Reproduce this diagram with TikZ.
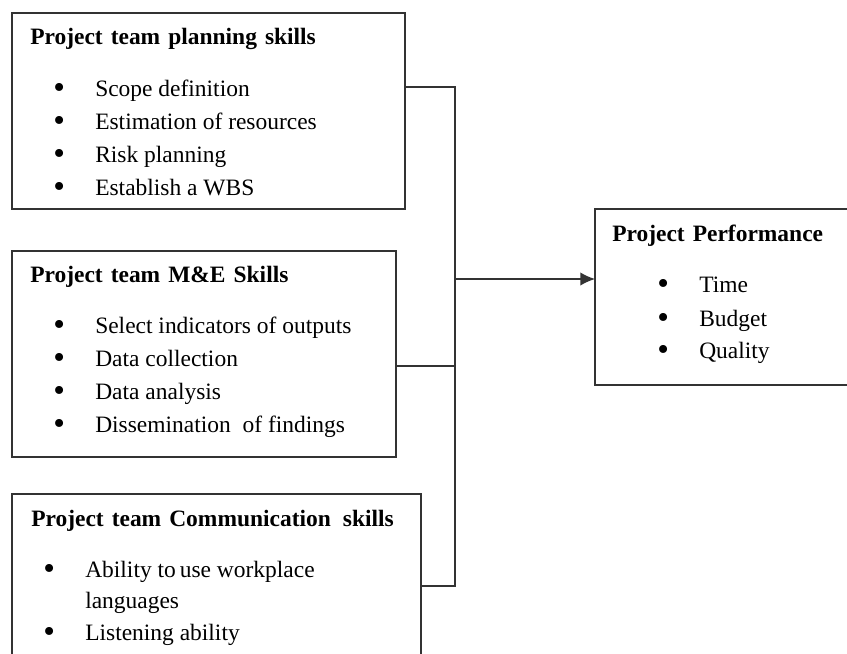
\documentclass[tikz,border=0pt]{standalone}
\usepackage{fontspec}
\setmainfont{Liberation Serif}
\usetikzlibrary{arrows.meta, calc}
\newcommand{\titlefont}{\fontsize{17.6}{20}\selectfont\bfseries\spaceskip 6pt plus 1pt\relax}
\tikzstyle{box}=[draw=black!80, line width=1pt, rectangle, anchor=north west, inner sep=0pt, outer sep=0pt]
\tikzstyle{title}=[anchor=base west, inner sep=0pt, font=\titlefont]
\tikzstyle{item}=[anchor=base west, inner sep=0pt, font=\fontsize{17.6}{20}\selectfont]
\tikzstyle{link}=[draw=black!80, line width=1pt]
\newcommand{\bul}{\makebox[31.5pt][l]{\fontsize{25}{25}\selectfont\raisebox{-1.6pt}{\textbullet}}}

\begin{document}
\begin{tikzpicture}[x=0.75pt, y=-0.75pt]
	\path[use as bounding box, clip] (0,0) rectangle (847,654);
	\node		[box, minimum width=294.75pt, minimum height=147pt]	(boxA) at (12,13)	{};
	\node		[box, minimum width=288pt, minimum height=154.5pt]	(boxB) at (12,251)	{};
	\node		[box, minimum width=306.75pt, minimum height=135pt]	(boxC) at (12,494)	{};
	\node		[box, minimum width=210pt, minimum height=132pt]	(boxD) at (595,209)	{};
	\node		[title]		(titleA) at (30,44)		{Project team planning skills};
	\node		[item]		(a1) at (53,96)		{\bul Scope definition};
	\node		[item]		(a2) at (53,129)	{\bul Estimation of resources};
	\node		[item]		(a3) at (53,162)	{\bul Risk planning};
	\node		[item]		(a4) at (53,195)	{\bul Establish a WBS};
	\node		[title]		(titleB) at (30,282)	{Project team M\&E Skills};
	\node		[item]		(b1) at (53,333)	{\bul Select indicators of outputs};
	\node		[item]		(b2) at (53,366)	{\bul Data collection};
	\node		[item]		(b3) at (53,399)	{\bul Data analysis};
	\node		[item]		(b4) at (53,432)	{\bul Dissemination\ \ of findings};
	\node		[title]		(titleC) at (31,526)	{Project team Communication\hspace{3pt} skills};
	\node		[item]		(c1) at (43,577)	{\bul Ability to\,use workplace};
	\node		[item]		(c1b) at (85,608)	{languages};
	\node		[item]		(c2) at (43,640)	{\bul Listening ability};
	\node		[title]		(titleD) at (612,241)	{Project Performance};
	\node		[item]		(d1) at (657,292)	{\bul Time};
	\node		[item]		(d2) at (657,326)	{\bul Budget};
	\node		[item]		(d3) at (657,358)	{\bul Quality};
	\coordinate	(spine) at (455,279);
	\draw[link] ($(boxA.north east)+(0,74)$) -| (spine);
	\draw[link] ($(boxB.north east)+(0,115)$) -| (spine);
	\draw[link] ($(boxC.north east)+(0,92)$) -| (spine);
	\draw[link, -{Latex[length=11pt, width=10pt]}] (spine) -- (spine -| boxD.west);
\end{tikzpicture}
\end{document}
